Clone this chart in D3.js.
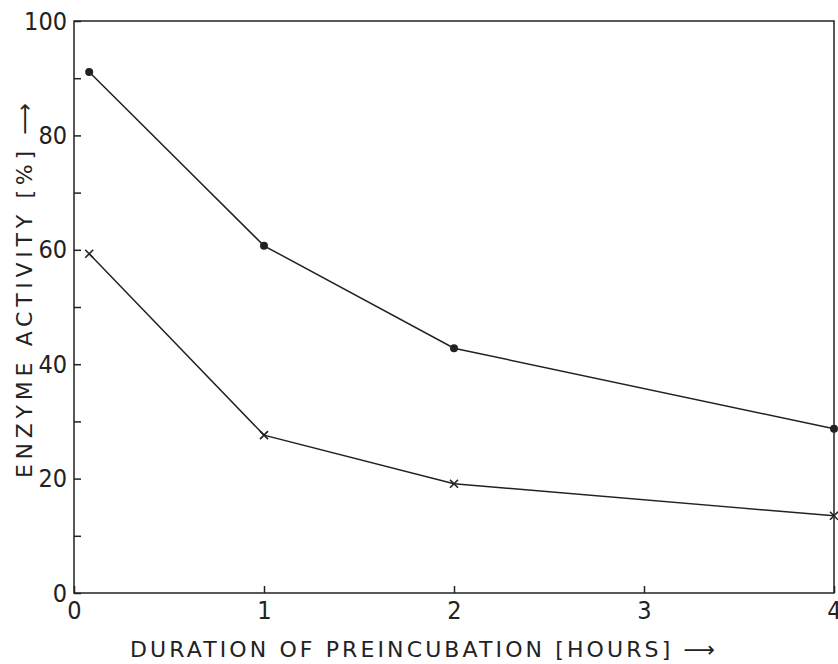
<!DOCTYPE html>
<html>
<head>
<meta charset="utf-8">
<script src="https://cdn.jsdelivr.net/npm/d3@7"></script>
<style>
  body { margin: 0; background: #fff; }
  text { font-family: "DejaVu Sans Condensed", "DejaVu Sans", sans-serif; font-stretch: condensed; fill: #222; }
  .title { font-family: "DejaVu Sans", sans-serif; font-stretch: normal; }
</style>
</head>
<body>
<svg id="chart" width="838" height="664"></svg>
<script>
// values
var hours = [0.08, 1, 2, 4];
var dotSeries = [91.1, 60.7, 42.8, 28.7];
var crossSeries = [59.3, 27.6, 19.1, 13.5];
var xTickLabels = [0, 1, 2, 3, 4];
var yTickLabels = [0, 20, 40, 60, 80, 100];
var yMinorTicks = [10, 30, 50, 70, 90];

var svg = d3.select("#chart");
var plotL = 74, plotR = 834, plotT = 21, plotB = 593;

var x = d3.scaleLinear().domain([0, 4]).range([plotL, plotR]);
var y = d3.scaleLinear().domain([0, 100]).range([plotB, plotT]);

var ink = "#222";

// frame
svg.append("rect")
    .attr("x", plotL).attr("y", plotT)
    .attr("width", plotR - plotL).attr("height", plotB - plotT)
    .style("fill", "none").style("stroke", ink).style("stroke-width", 1.5);

// y axis: inward ticks
var yAxis = d3.axisLeft(y)
    .tickValues(yTickLabels.concat(yMinorTicks))
    .tickSizeInner(-7).tickSizeOuter(0)
    .tickFormat(function (d) { return yTickLabels.indexOf(d) >= 0 ? d : ""; });
var gy = svg.append("g").attr("transform", "translate(" + plotL + ",0)").call(yAxis);
gy.select(".domain").remove();
gy.attr("font-size", 25).attr("font-family", null);
gy.selectAll("line").style("stroke", ink).style("stroke-width", 1.5);
gy.selectAll("text")
    .attr("x", -7)
    .style("fill", ink);

// x axis: inward ticks
var xAxis = d3.axisBottom(x)
    .tickValues(xTickLabels)
    .tickSizeInner(-7).tickSizeOuter(0)
    .tickFormat(d3.format("d"));
var gx = svg.append("g").attr("transform", "translate(0," + plotB + ")").call(xAxis);
gx.select(".domain").remove();
gx.attr("font-size", 25).attr("font-family", null);
gx.selectAll("line").style("stroke", ink).style("stroke-width", 1.5);
gx.selectAll("text")
    .attr("y", 8)
    .style("fill", ink);

// axis titles
svg.append("text")
    .attr("class", "title")
    .attr("x", 130)
    .attr("y", 657)
    .attr("textLength", 585)
    .attr("font-size", 22)
    .text("DURATION OF  PREINCUBATION [HOURS] \u27f6");

svg.append("text")
    .attr("class", "title")
    .attr("transform", "translate(32,478) rotate(-90)")
    .attr("textLength", 375)
    .attr("font-size", 22)
    .text("ENZYME ACTIVITY [%] \u27f6");

var line = d3.line()
    .x(function (d) { return x(d[0]); })
    .y(function (d) { return y(d[1]); });

var dots = hours.map(function (h, i) { return [h, dotSeries[i]]; });
var crosses = hours.map(function (h, i) { return [h, crossSeries[i]]; });

svg.append("path").datum(dots).attr("d", line)
    .style("fill", "none").style("stroke", ink).style("stroke-width", 1.5);
svg.append("path").datum(crosses).attr("d", line)
    .style("fill", "none").style("stroke", ink).style("stroke-width", 1.5);

svg.selectAll(".dot").data(dots).enter().append("circle")
    .attr("class", "dot")
    .attr("cx", function (d) { return x(d[0]); })
    .attr("cy", function (d) { return y(d[1]); })
    .attr("r", 4)
    .style("fill", ink);

svg.selectAll(".cross").data(crosses).enter().append("path")
    .attr("class", "cross")
    .attr("transform", function (d) { return "translate(" + x(d[0]) + "," + y(d[1]) + ")"; })
    .attr("d", "M-4,-4L4,4M-4,4L4,-4")
    .style("stroke", ink).style("stroke-width", 1.6);
</script>
</body>
</html>
